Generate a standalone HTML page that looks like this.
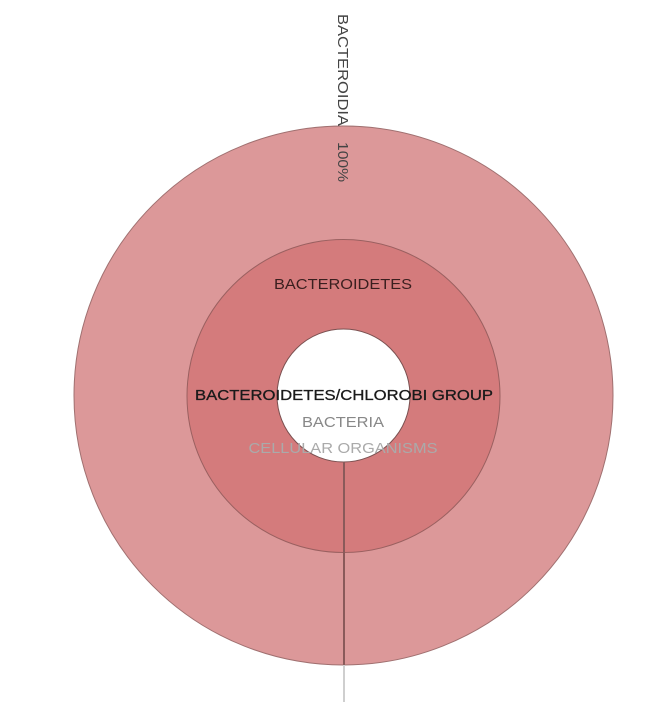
<!DOCTYPE html>
<html><head><meta charset="utf-8"><style>
html,body{margin:0;padding:0;background:#fff;width:657px;height:703px;overflow:hidden}
svg{display:block}
text{font-family:"Liberation Sans",Arial,sans-serif;font-size:15px}
</style></head><body>
<svg width="657" height="703" viewBox="0 0 657 703">
<circle cx="343.5" cy="395.5" r="269.5" fill="#dc9899" stroke="#a07070" stroke-width="1"/>
<circle cx="343.5" cy="396" r="156.5" fill="#d47b7c" stroke="#9a6060" stroke-width="1"/>
<circle cx="343.5" cy="395.5" r="66.5" fill="#fff" stroke="#7a5050" stroke-width="1"/>
<line x1="344" y1="462" x2="344" y2="665" stroke="#8a5a5a" stroke-width="2"/>
<line x1="344" y1="665" x2="344" y2="702" stroke="#cfcfcf" stroke-width="2"/>
<text x="343" y="289" text-anchor="middle" fill="#3a1f1f" textLength="138" lengthAdjust="spacingAndGlyphs">BACTEROIDETES</text>
<text x="344" y="400" text-anchor="middle" fill="#1a1a1a" stroke="#1a1a1a" stroke-width="0.3" textLength="298" lengthAdjust="spacingAndGlyphs">BACTEROIDETES/CHLOROBI GROUP</text>
<text x="343" y="427" text-anchor="middle" fill="#888" textLength="82" lengthAdjust="spacingAndGlyphs">BACTERIA</text>
<text x="343" y="453" text-anchor="middle" fill="#aaa" textLength="189" lengthAdjust="spacingAndGlyphs">CELLULAR ORGANISMS</text>
<g transform="translate(338,14) rotate(90)">
<text x="0" y="0" fill="#444" textLength="112" lengthAdjust="spacingAndGlyphs">BACTEROIDIA</text>
<text x="128" y="0" fill="#444" textLength="40" lengthAdjust="spacingAndGlyphs">100%</text>
</g>
</svg>
</body></html>
